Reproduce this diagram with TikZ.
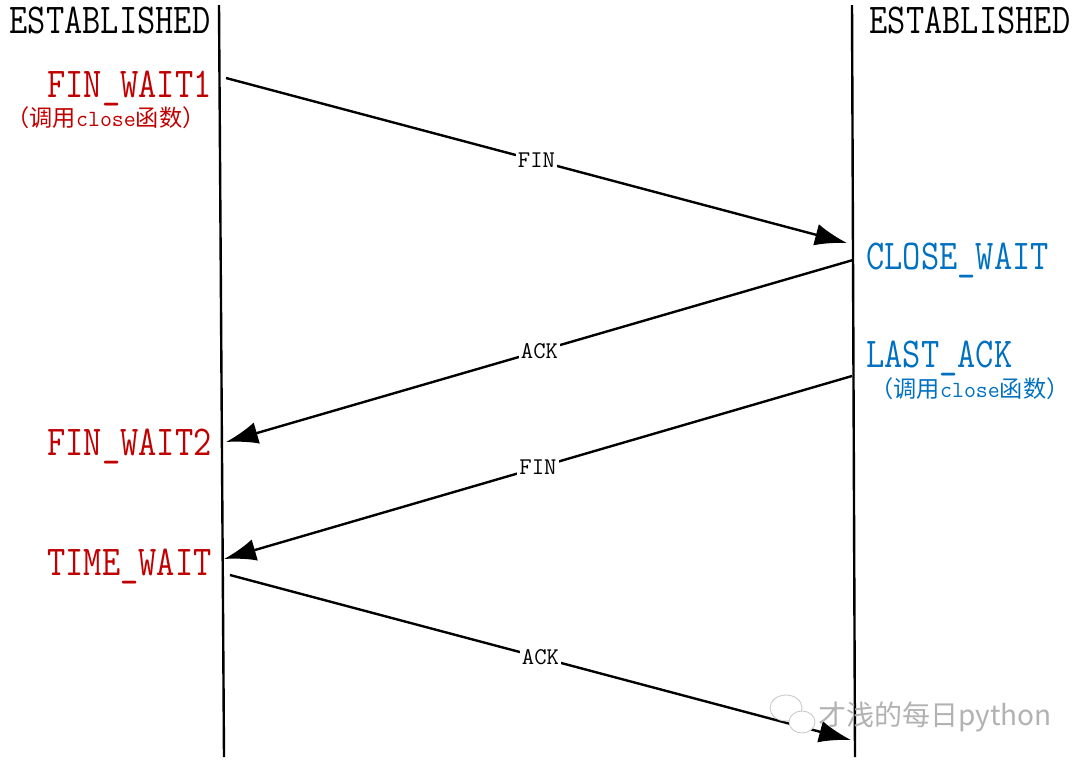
\documentclass[tikz,border=0pt]{standalone}
\usepackage{fontspec}
\newfontfamily\cjk{Noto Sans CJK SC}
\usetikzlibrary{arrows.meta}
\definecolor{statered}{RGB}{192,0,0}
\definecolor{stateblue}{RGB}{0,112,192}
\newcommand{\tallbox}[1]{\scalebox{1}[1.2]{#1}}
\newcommand{\callclose}{{\cjk （调用}close{\cjk 函数）}}

\begin{document}
\begin{tikzpicture}[x=0.5pt,y=0.5pt,
    statelabel/.style={inner sep=0pt,font=\fontsize{17.7}{20}\selectfont\ttfamily},
    calllabel/.style={inner sep=0pt,font=\fontsize{11.6}{14}\selectfont\ttfamily},
    msg/.style={line width=1.2pt,-{Latex[length=16pt,width=11pt]}},
    msglabel/.style={fill=white,inner sep=1pt,font=\fontsize{12}{14}\selectfont\ttfamily}]
\useasboundingbox (0,0) rectangle (1080,-767);
% the two lifelines
\coordinate (ltop) at (219,-5);
\coordinate (lbot) at (224,-757);
\coordinate (rtop) at (852,-5);
\coordinate (rbot) at (855,-757);
\draw[line width=1.2pt] (ltop) -- (lbot);
\draw[line width=1.2pt] (rtop) -- (rbot);

% states
\node[statelabel,anchor=base] (estl) at (110,-33) {\tallbox{ESTABLISHED}};
\node[statelabel,anchor=base] (estr) at (970,-33) {\tallbox{ESTABLISHED}};
\node[statelabel,anchor=base east,text=statered] (fw1) at (212,-97) {\tallbox{FIN\_WAIT1}};
\node[calllabel,anchor=base,text=statered] (calll) at (106,-126) {\callclose};
\node[statelabel,anchor=base west,text=stateblue] (cw) at (866,-269) {\tallbox{CLOSE\_WAIT}};
\node[statelabel,anchor=base west,text=stateblue] (la) at (866,-367) {\tallbox{LAST\_ACK}};
\node[calllabel,anchor=base,text=stateblue] (callr) at (970,-397) {\callclose};
\node[statelabel,anchor=base east,text=statered] (fw2) at (212,-455) {\tallbox{FIN\_WAIT2}};
\node[statelabel,anchor=base east,text=statered] (tw) at (212,-575) {\tallbox{TIME\_WAIT}};

% message end points
\coordinate (fin1s) at (226,-78);
\coordinate (fin1e) at (847,-243);
\coordinate (ack1s) at (853,-260);
\coordinate (ack1e) at (226,-442);
\coordinate (fin2s) at (852,-376);
\coordinate (fin2e) at (224,-559);
\coordinate (ack2s) at (230,-575);
\coordinate (ack2e) at (851,-740);

\draw[msg] (fin1s) -- node[msglabel] (fin1) {FIN} (fin1e);
\draw[msg] (ack1s) -- node[msglabel] (ack1) {ACK} (ack1e);
\draw[msg] (fin2s) -- node[msglabel] (fin2) {FIN} (fin2e);
\draw[msg] (ack2s) -- node[msglabel] (ack2) {ACK} (ack2e);

% watermark
\draw[gray!45,fill=white] (786,-708) ellipse (16 and 13);
\draw[gray!45,fill=white] (802,-722) ellipse (13 and 11);
\node[anchor=west,inner sep=0pt,text=gray!60,font=\cjk\fontsize{14}{16}\selectfont] (wm) at (818,-717) {才浅的每日python};
\end{tikzpicture}
\end{document}
